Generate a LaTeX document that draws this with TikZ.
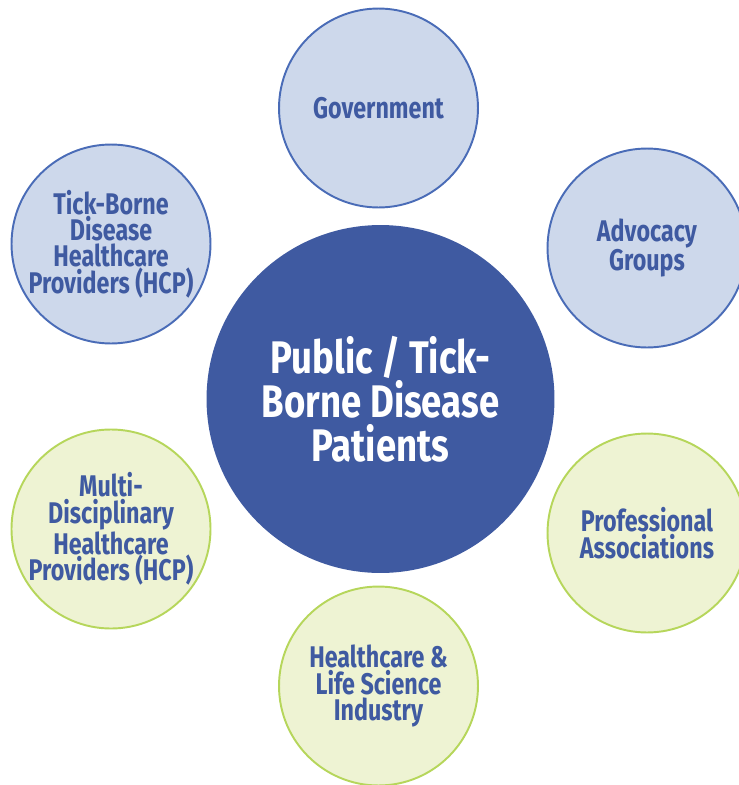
\documentclass[tikz,border=0pt]{standalone}
\usepackage{fontspec}
\setmainfont{Fira Sans}
\newfontfamily\hubfont[FakeStretch=0.80]{Fira Sans}
\newfontfamily\circfont[FakeStretch=0.78]{Fira Sans}

\definecolor{hubblue}{HTML}{3F5AA1}
\definecolor{paleblue}{HTML}{CDD8EB}
\definecolor{rimblue}{HTML}{4A6CB7}
\definecolor{palegreen}{HTML}{EEF3D3}
\definecolor{rimgreen}{HTML}{B6D65B}

\begin{document}
\begin{tikzpicture}[x=0.02cm, y=-0.02cm]
    \tikzset{every node/.style={inner sep=0pt, align=center},
        hub/.style={circle, fill=hubblue, minimum size=6.96cm, text=white,
            font=\hubfont\bfseries\fontsize{26}{25}\selectfont},
        bluering/.style={circle, draw=rimblue, line width=1.1pt, fill=paleblue,
            minimum size=3.98cm, text=hubblue,
            font=\circfont\bfseries\fontsize{17}{15}\selectfont},
        greenring/.style={bluering, draw=rimgreen, fill=palegreen}}
    \useasboundingbox (0,0) rectangle (739,785);
    \clip (0,0) rectangle (739,785);
    \node [hub] (patients) at (380.5,399) {Public / Tick-\\Borne Disease\\Patients};
    \node [bluering] (gov) at (378.5,108) {Government};
    \node [bluering] (advocacy) at (647,248) {Advocacy\\Groups};
    \node [bluering] (tbhcp) at (111,244) {Tick-Borne\\Disease\\Healthcare\\Providers (HCP)};
    \node [greenring] (mdhcp) at (111,529) {Multi-\\Disciplinary\\Healthcare\\Providers (HCP)};
    \node [greenring] (industry) at (378.5,686) {Healthcare \&\\Life Science\\Industry};
    \node [greenring] (assoc) at (647,533) {Professional\\Associations};
\end{tikzpicture}
\end{document}
